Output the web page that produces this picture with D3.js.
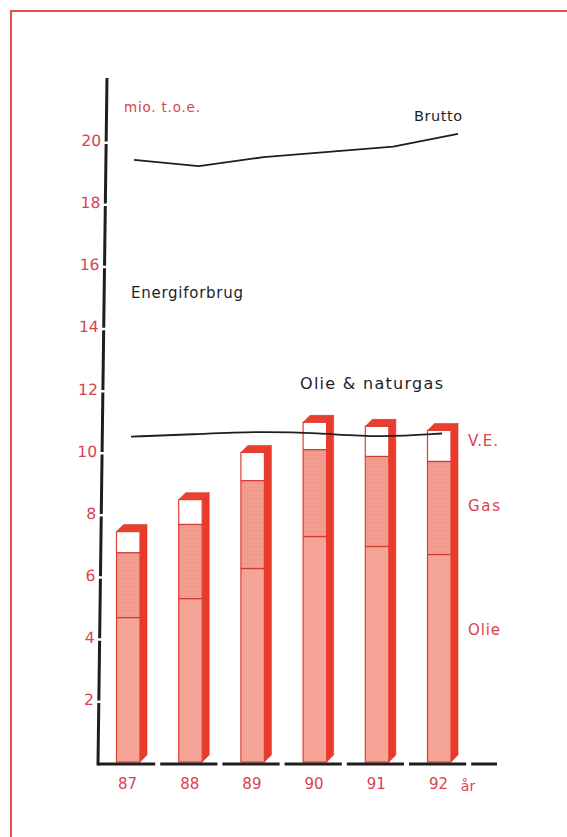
<!DOCTYPE html>
<html>
<head>
<meta charset="utf-8">
<script src="https://cdn.jsdelivr.net/npm/d3@7"></script>
<style>
  html, body { margin: 0; padding: 0; background: #fff; }
  svg { display: block; }
  text { font-family: "DejaVu Sans", Lato, sans-serif; }
</style>
</head>
<body>
<svg id="chart" width="567" height="837"></svg>
<script>
// Energy consumption, mio. t.o.e.
const years = ["87", "88", "89", "90", "91", "92"];
const olie = [4.65, 5.26, 6.23, 7.26, 6.94, 6.68];
const gas  = [2.09, 2.39, 2.83, 2.80, 2.90, 3.00];
const ve   = [0.68, 0.80, 0.91, 0.88, 0.97, 1.00];
const brutto = [19.39, 19.19, 19.48, 19.65, 19.82, 20.23];
const olieNaturgas = [10.48, 10.55, 10.65, 10.60, 10.45, 10.58];
const yTicks = [2, 4, 6, 8, 10, 12, 14, 16, 18, 20];

const svg = d3.select("#chart");
const RED = "#e03f35";
const TEXT_RED = "#da4250";
const INK = "#1e1e1e";

// frame
svg.append("path")
  .attr("d", "M11,837 L11,11 L567,11")
  .attr("fill", "none").attr("stroke", "#e2504f").attr("stroke-width", 2);

const y = d3.scaleLinear().domain([0, 20]).range([762, 141]);
const x = d3.scaleBand().domain(years).range([95.5, 95.5 + 6 * 62.2]);

// patterns for the front faces
const defs = svg.append("defs");
const pGas = defs.append("pattern").attr("id", "gasHatch")
  .attr("patternUnits", "userSpaceOnUse").attr("width", 6).attr("height", 4);
pGas.append("rect").attr("width", 6).attr("height", 4).attr("fill", "#f39d90");
pGas.append("rect").attr("y", 3).attr("width", 6).attr("height", 0.8).attr("fill", "#f0968a");
const pOil = defs.append("pattern").attr("id", "oilHatch")
  .attr("patternUnits", "userSpaceOnUse").attr("width", 5).attr("height", 6);
pOil.append("rect").attr("width", 5).attr("height", 6).attr("fill", "#f5a598");
pOil.append("rect").attr("x", 3).attr("width", 0.8).attr("height", 6).attr("fill", "#f3a194");

// stacked data
const stacks = years.map((yr, i) => ({
  year: yr,
  oil: olie[i],
  gasTop: olie[i] + gas[i],
  total: olie[i] + gas[i] + ve[i]
}));

const barOff = 21, barW = 23.5, dx = 7, dy = 7;
const bars = svg.append("g").attr("class", "bars");

stacks.forEach(d => {
  const x0 = x(d.year) + barOff;
  const x1 = x0 + barW;
  const yTop = y(d.total), yBase = y(0);
  const g = bars.append("g");
  // side face
  g.append("path")
    .attr("d", `M${x1},${yTop} L${x1 + dx},${yTop - dy} L${x1 + dx},${yBase - dy} L${x1},${yBase} Z`)
    .attr("fill", "#ea3b2a").attr("stroke", "#d8342a").attr("stroke-width", 0.6);
  // top face
  g.append("path")
    .attr("d", `M${x0},${yTop} L${x0 + dx},${yTop - dy} L${x1 + dx},${yTop - dy} L${x1},${yTop} Z`)
    .attr("fill", "#e8402f").attr("stroke", "#d8342a").attr("stroke-width", 0.6);
  // oil
  g.append("rect").attr("x", x0).attr("width", barW)
    .attr("y", y(d.oil)).attr("height", yBase - y(d.oil))
    .attr("fill", "url(#oilHatch)");
  // gas
  g.append("rect").attr("x", x0).attr("width", barW)
    .attr("y", y(d.gasTop)).attr("height", y(d.oil) - y(d.gasTop))
    .attr("fill", "url(#gasHatch)");
  // renewables (V.E.)
  g.append("rect").attr("x", x0).attr("width", barW)
    .attr("y", yTop).attr("height", y(d.gasTop) - yTop)
    .attr("fill", "#ffffff");
  // outline + dividers
  g.append("rect").attr("x", x0).attr("width", barW)
    .attr("y", yTop).attr("height", yBase - yTop)
    .attr("fill", "none").attr("stroke", RED).attr("stroke-width", 1.2);
  [d.oil, d.gasTop].forEach(v => {
    g.append("line").attr("x1", x0).attr("x2", x1)
      .attr("y1", y(v)).attr("y2", y(v))
      .attr("stroke", "#cf3a33").attr("stroke-width", 1.3);
  });
});

// lines
const xBrutto = d3.scalePoint().domain(years).range([134, 458]);
const xOlie = d3.scalePoint().domain(years).range([131, 442]);
const lineB = d3.line().x((d, i) => xBrutto(years[i])).y(d => y(d));
const lineO = d3.line().x((d, i) => xOlie(years[i])).y(d => y(d)).curve(d3.curveBasis);
svg.append("path").attr("d", lineB(brutto))
  .attr("fill", "none").attr("stroke", INK).attr("stroke-width", 1.8)
  .attr("stroke-linejoin", "round");
svg.append("path").attr("d", lineO(olieNaturgas))
  .attr("fill", "none").attr("stroke", INK).attr("stroke-width", 1.8);

// x axis: heavy baseline broken between the years
const xAxisY = 764;
const cuts = x.domain().slice(1).map(d => x(d)).concat([x.range()[1]]);
const segEdges = [98].concat(cuts).concat([497]);
for (let i = 0; i < segEdges.length - 1; i++) {
  const a = i === 0 ? segEdges[i] : segEdges[i] + 2.5;
  const b = i === segEdges.length - 2 ? segEdges[i + 1] : segEdges[i + 1] - 2.5;
  svg.append("line").attr("x1", a).attr("x2", b)
    .attr("y1", xAxisY).attr("y2", xAxisY)
    .attr("stroke", INK).attr("stroke-width", 3);
}
svg.append("g").selectAll("text").data(years).join("text")
  .attr("x", d => x(d) + 32).attr("y", 789)
  .attr("text-anchor", "middle").attr("fill", TEXT_RED)
  .attr("font-size", 15).text(d => d);
svg.append("text").attr("x", 468).attr("y", 791)
  .attr("text-anchor", "middle").attr("fill", TEXT_RED)
  .attr("font-size", 14).text("år");

// y axis, slightly leaning, with the ticks cut out of the line
const yAxis = svg.append("g")
  .attr("transform", `translate(${98 + 0.0131 * 764},0) skewX(-0.75)`);
yAxis.append("line").attr("x1", 0).attr("x2", 0)
  .attr("y1", 78).attr("y2", 765.5)
  .attr("stroke", INK).attr("stroke-width", 3);
const axisLabels = yAxis.append("g").call(
  d3.axisLeft(y).tickValues(yTicks).tickSize(0).tickPadding(5)
);
axisLabels.select(".domain").remove();
axisLabels.selectAll("text")
  .attr("fill", TEXT_RED).attr("font-size", 15.5)
  .attr("font-family", "'DejaVu Sans', Lato, sans-serif")
  .attr("dy", "0.3em");
yAxis.selectAll("rect.gap").data(yTicks).join("rect")
  .attr("class", "gap")
  .attr("x", -3).attr("width", 6)
  .attr("y", d => y(d) + 0.5).attr("height", 2.5)
  .attr("fill", "#fff");

// annotations
const notes = [
  { t: "mio. t.o.e.", x: 124, y: 112, c: TEXT_RED, s: 13.5, w: 76 },
  { t: "Brutto", x: 414, y: 121, c: INK, s: 14.5, w: 48 },
  { t: "Energiforbrug", x: 131, y: 298, c: INK, s: 15, w: 112 },
  { t: "Olie & naturgas", x: 300, y: 389, c: INK, s: 16, w: 143 },
  { t: "V.E.", x: 468, y: 446, c: TEXT_RED, s: 15, w: 30 },
  { t: "Gas", x: 468, y: 511, c: TEXT_RED, s: 15, w: 32 },
  { t: "Olie", x: 468, y: 635, c: TEXT_RED, s: 15, w: 32 }
];
svg.append("g").selectAll("text").data(notes).join("text")
  .attr("x", d => d.x).attr("y", d => d.y)
  .attr("fill", d => d.c).attr("font-size", d => d.s)
  .attr("textLength", d => d.w).attr("lengthAdjust", "spacing")
  .text(d => d.t);
</script>
</body>
</html>
